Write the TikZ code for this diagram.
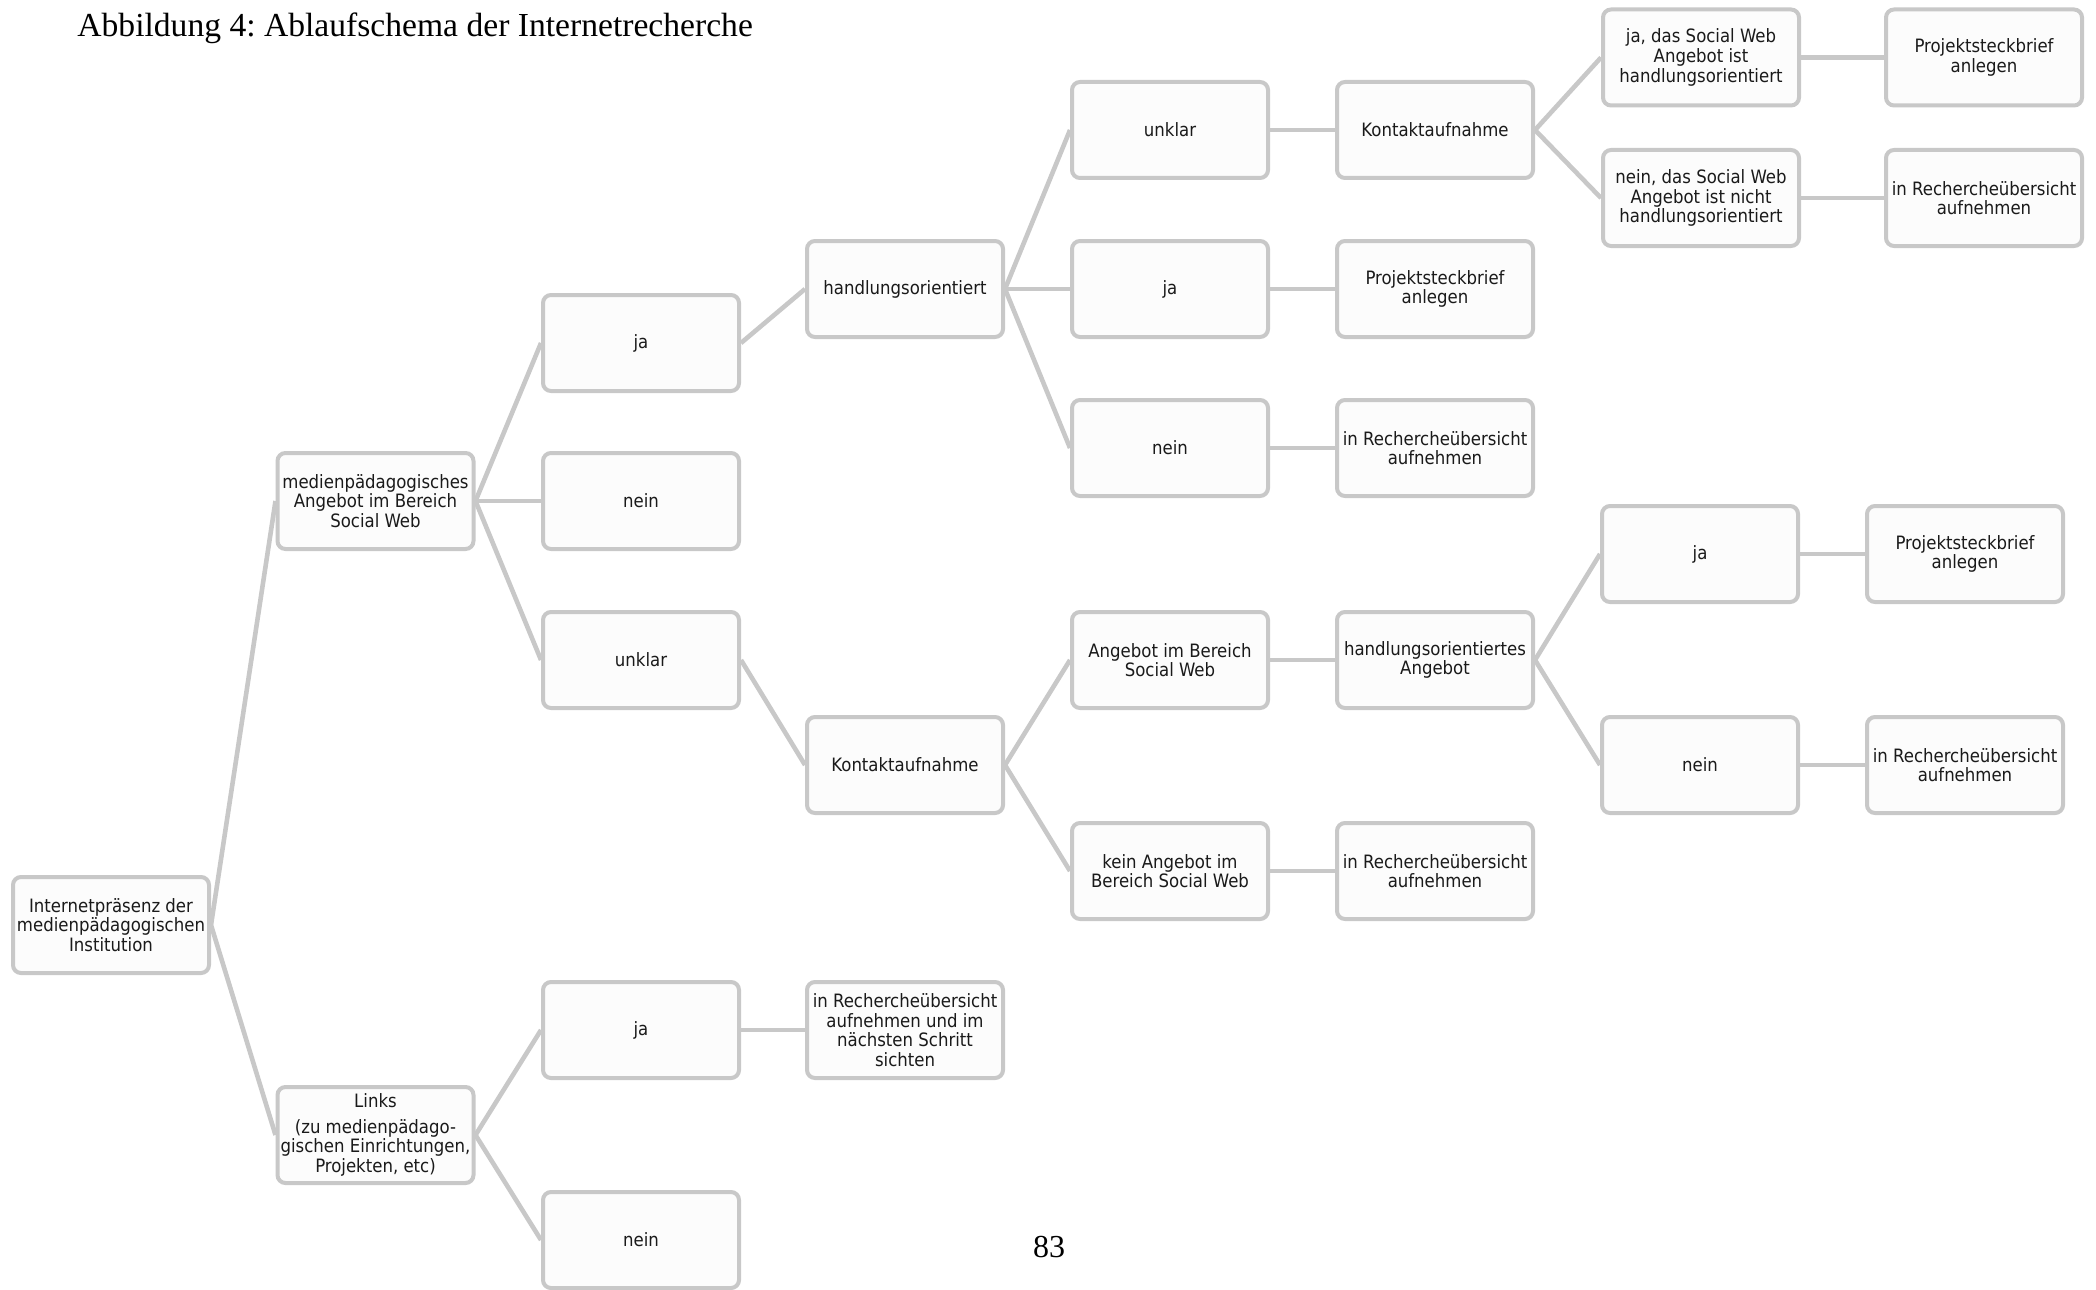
\documentclass[tikz,border=0pt]{standalone}
\usepackage{fontspec}
\usetikzlibrary{backgrounds}
\setmainfont{Liberation Serif}
\newfontfamily\boxfont{DejaVu Sans Condensed}
\definecolor{boxline}{HTML}{C8C8C8}
\definecolor{boxfill}{HTML}{FCFCFC}
\definecolor{boxtext}{HTML}{1A1A1A}
\frenchspacing
\tikzset{
  flowbox/.style={draw=boxline, line width=2pt, fill=boxfill, rounded corners=4pt,
    minimum width=98pt, minimum height=48pt, inner sep=1pt, align=center,
    text=boxtext, font=\boxfont\fontsize{9.2}{9.8}\selectfont},
  conn/.style={draw=boxline, line width=2.3pt}
}
\begin{document}
\begin{tikzpicture}[x=0.5pt, y=-0.5pt]
\clip (0,0) rectangle (2096,1289);
\node[anchor=base west, inner sep=0pt, font=\fontsize{16.8}{19}\selectfont] (title) at (77,37) {Abbildung 4: Ablaufschema der Internetrecherche};
\node[anchor=base, inner sep=0pt, font=\fontsize{16}{19}\selectfont] (pagenum) at (1049,1257) {83};
% column A
\node[flowbox] (root) at (111,925) {Internetpräsenz der\\medienpädagogischen\\Institution};
% column B
\node[flowbox] (med) at (375.5,501) {medienpädagogisches\\Angebot im Bereich\\Social Web};
\node[flowbox] (links) at (375.5,1135) {Links\\[3pt](zu medienpädago-\\gischen Einrichtungen,\\Projekten, etc)};
% column C
\node[flowbox] (cja) at (641,343) {ja};
\node[flowbox] (cnein) at (641,501) {nein};
\node[flowbox] (cunklar) at (641,660) {unklar};
\node[flowbox] (cjab) at (641,1030) {ja};
\node[flowbox] (cneinb) at (641,1240) {nein};
% column D
\node[flowbox] (dhand) at (905,289) {handlungsorientiert};
\node[flowbox] (dkontakt) at (905,765) {Kontaktaufnahme};
\node[flowbox] (drech) at (905,1030) {in Rechercheübersicht\\aufnehmen und im\\nächsten Schritt\\sichten};
% column E
\node[flowbox] (eunklar) at (1170,130) {unklar};
\node[flowbox] (eja) at (1170,289) {ja};
\node[flowbox] (enein) at (1170,448) {nein};
\node[flowbox] (eang) at (1170,660) {Angebot im Bereich\\Social Web};
\node[flowbox] (ekein) at (1170,871) {kein Angebot im\\Bereich Social Web};
% column F
\node[flowbox] (fkontakt) at (1435,130) {Kontaktaufnahme};
\node[flowbox] (fproj) at (1435,289) {Projektsteckbrief\\anlegen};
\node[flowbox] (frech) at (1435,448) {in Rechercheübersicht\\aufnehmen};
\node[flowbox] (fhand) at (1435,660) {handlungsorientiertes\\Angebot};
\node[flowbox] (frechb) at (1435,871) {in Rechercheübersicht\\aufnehmen};
% column G
\node[flowbox] (gjadas) at (1701,57.5) {ja, das Social Web\\Angebot ist\\handlungsorientiert};
\node[flowbox] (gneindas) at (1701,198) {nein, das Social Web\\Angebot ist nicht\\handlungsorientiert};
\node[flowbox] (gja) at (1700,554) {ja};
\node[flowbox] (gnein) at (1700,765) {nein};
% column H
\node[flowbox] (hproja) at (1984,57.5) {Projektsteckbrief\\anlegen};
\node[flowbox] (hrecha) at (1984,198) {in Rechercheübersicht\\aufnehmen};
\node[flowbox] (hprojb) at (1965,554) {Projektsteckbrief\\anlegen};
\node[flowbox] (hrechb) at (1965,765) {in Rechercheübersicht\\aufnehmen};
\begin{scope}[on background layer]
\fill[white] (0,0) rectangle (2096,1289);
\draw[conn] (root.east) -- (med.west);
\draw[conn] (root.east) -- (links.west);
\draw[conn] (med.east) -- (cja.west);
\draw[conn] (med.east) -- (cnein.west);
\draw[conn] (med.east) -- (cunklar.west);
\draw[conn] (links.east) -- (cjab.west);
\draw[conn] (links.east) -- (cneinb.west);
\draw[conn] (cja.east) -- (dhand.west);
\draw[conn] (cunklar.east) -- (dkontakt.west);
\draw[conn] (cjab.east) -- (drech.west);
\draw[conn] (dhand.east) -- (eunklar.west);
\draw[conn] (dhand.east) -- (eja.west);
\draw[conn] (dhand.east) -- (enein.west);
\draw[conn] (dkontakt.east) -- (eang.west);
\draw[conn] (dkontakt.east) -- (ekein.west);
\draw[conn] (eunklar.east) -- (fkontakt.west);
\draw[conn] (eja.east) -- (fproj.west);
\draw[conn] (enein.east) -- (frech.west);
\draw[conn] (eang.east) -- (fhand.west);
\draw[conn] (ekein.east) -- (frechb.west);
\draw[conn] (fkontakt.east) -- (gjadas.west);
\draw[conn] (fkontakt.east) -- (gneindas.west);
\draw[conn] (fhand.east) -- (gja.west);
\draw[conn] (fhand.east) -- (gnein.west);
\draw[conn] (gjadas.east) -- (hproja.west);
\draw[conn] (gneindas.east) -- (hrecha.west);
\draw[conn] (gja.east) -- (hprojb.west);
\draw[conn] (gnein.east) -- (hrechb.west);
\end{scope}
\end{tikzpicture}
\end{document}
